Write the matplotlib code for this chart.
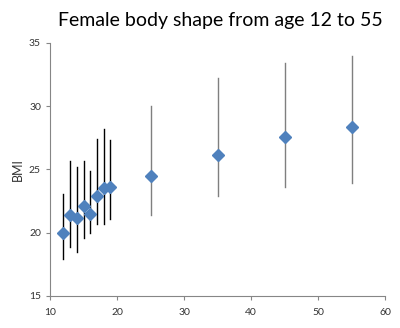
import matplotlib
matplotlib.use("Agg")
import matplotlib.pyplot as plt

ages = [12, 13, 14, 15, 16, 17, 18, 19, 25, 35, 45, 55]
bmi = [20.0, 21.4, 21.2, 22.1, 21.5, 22.9, 23.5, 23.6, 24.45, 26.15, 27.55, 28.35]
bmi_low = [17.9, 18.9, 18.5, 19.6, 20.0, 20.7, 20.7, 21.1, 21.4, 22.9, 23.6, 23.9]
bmi_high = [23.1, 25.7, 25.2, 25.7, 24.9, 27.4, 28.2, 27.3, 30.0, 32.25, 33.4, 34.0]

plt.rcParams['font.family'] = ['Lato', 'DejaVu Sans']

fig = plt.figure(figsize=(4.0, 3.28), dpi=100)
ax = fig.add_axes([0.125, 0.0976, 0.8375, 0.7714])

# error bars: black for teens, grey for adults
for a, lo, hi in zip(ages, bmi_low, bmi_high):
    col = 'black' if a < 20 else '#7f7f7f'
    ax.plot([a, a], [lo, hi], color=col, lw=1.0, zorder=2)

ax.plot(ages, bmi, linestyle='none', marker='D', ms=5.8, color='#4f81bd', zorder=3)

ax.set_xlim(10, 60)
ax.set_ylim(15, 35)
ax.set_xticks(range(10, 61, 10))
ax.set_yticks(range(15, 36, 5))
for s in ['top', 'right']:
    ax.spines[s].set_visible(False)
for s in ['left', 'bottom']:
    ax.spines[s].set_color('#868686')
    ax.spines[s].set_linewidth(0.8)
ax.tick_params(colors='#868686', labelcolor='#333333', labelsize=7.5, length=3, width=0.8)
ax.tick_params(axis='x', pad=6)
ax.set_ylabel('BMI', fontsize=9, color='#333333', labelpad=4)
fig.text(0.55, 0.938, 'Female body shape from age 12 to 55', ha='center', va='center', fontsize=14, color='black')

fig.savefig('out.png', dpi=100)
